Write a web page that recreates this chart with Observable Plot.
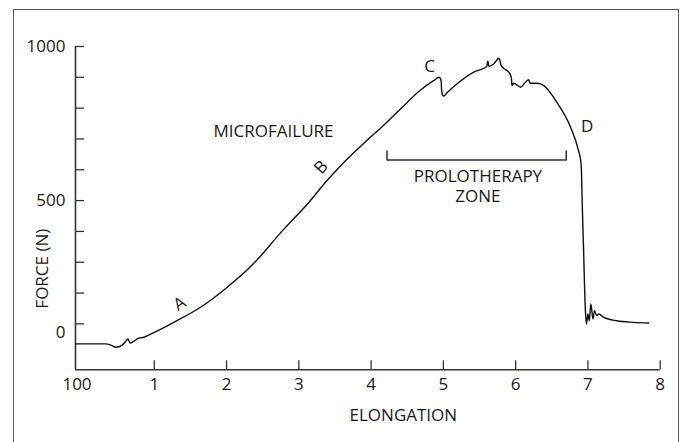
<!DOCTYPE html>
<html><head><meta charset="utf-8">
<script src="https://cdn.jsdelivr.net/npm/d3@7"></script>
<script src="https://cdn.jsdelivr.net/npm/@observablehq/plot@0.6"></script>
<style>
body{margin:0;background:#fff;}
#wrap{position:relative;width:687px;height:442px;overflow:hidden;background:#fff;}
#wrap svg{position:absolute;left:0;top:0;}
#border{position:absolute;left:13px;top:9px;width:666px;height:470px;border:1.5px solid #5a5a5a;box-sizing:border-box;pointer-events:none;}
</style></head><body><div id="wrap"></div>
<script>
// Curve: elongation vs force (N)
const elongation = [-0.09,0.33,0.40,0.47,0.55,0.60,0.635,0.665,0.72,0.79,0.83,0.95,1.10,1.27,1.64,2.01,2.33,2.52,2.70,2.84,3.12,3.39,3.67,3.95,4.13,4.41,4.68,4.87,4.94,4.97,4.975,4.99,5.005,5.05,5.19,5.42,5.60,5.615,5.63,5.70,5.77,5.80,5.86,5.905,5.94,5.95,5.97,6.02,6.07,6.12,6.18,6.20,6.30,6.39,6.57,6.76,6.87,6.90,6.91,6.92,6.94,6.965,6.98,7.00,7.02,7.04,7.07,7.09,7.12,7.15,7.22,7.40,7.63,7.84];
const force      = [35,35,31,24,30,42,51,38,44,54,55,67,84,105,154,219,285,333,383,419,489,565,635,697,735,798,858,890,900,888,860,842,839,850,879,917,935,952,935,944,962,938,925,917,900,873,881,875,868,880,892,881,881,873,819,738,662,630,600,500,338,143,100,132,110,165,116,143,127,132,121,110,105,103];

const xDomain = [-0.09, 8];
const yDomain = [-49, 1000];
const xTicks = [1,2,3,4,5,6,7,8];
const xTickLabels = ["1","2","3","4","5","6","7","8"];
const xOriginLabel = "100";
const yTicks = [100,200,300,400,500,600,700,800,900,1000];
const yTickLabels = [1000, 500];
const yZeroLabel = "0";
const xTitle = "ELONGATION";
const yTitle = "FORCE (N)";

// Annotations
const labels = [
  {text: "MICROFAILURE", x: 2.65, y: 724},
  {text: "C", x: 4.81, y: 936},
  {text: "D", x: 6.99, y: 741}
];
const zoneLabel = {text: "PROLOTHERAPY\nZONE", x: 5.478, y: 549};
const labelA = {text: "A", x: 1.35, y: 165};
const labelB = {text: "B", x: 3.31, y: 608};
const yTitlePos = {x: -0.549, y: 279};
const bracket = [{x: 4.22, y: 661}, {x: 4.22, y: 632}, {x: 6.70, y: 632}, {x: 6.70, y: 661}];

const data = elongation.map((x, i) => ({x, y: force[i]}));

const W = 687, H = 442, mL = 75, mR = 27.3, mT = 46, mB = 72.7;
const plotW = W - mL - mR, plotH = H - mT - mB;
const axisColor = "#333";
const ink = "#1a1a1a";

const chart = Plot.plot({
  width: W, height: H,
  marginLeft: mL, marginRight: mR, marginTop: mT, marginBottom: mB,
  x: {domain: xDomain, axis: null},
  y: {domain: yDomain, axis: null},
  style: {fontFamily: "'Open Sans', sans-serif", fontSize: "17px", background: "transparent", color: ink, overflow: "visible"},
  marks: [
    Plot.ruleX([xDomain[0]], {y1: yDomain[0], y2: yDomain[1], stroke: axisColor, strokeWidth: 1.6}),
    Plot.ruleY([yDomain[0]], {x1: xDomain[0], x2: xDomain[1], stroke: axisColor, strokeWidth: 1.6}),
    Plot.tickY(yTicks, {y: d => d, insetRight: plotW - 9, stroke: axisColor, strokeWidth: 1.3}),
    Plot.tickX(xTicks, {x: d => d, insetTop: plotH - 9, stroke: axisColor, strokeWidth: 1.3}),
    Plot.text(yTickLabels, {y: d => d, text: d => String(d), frameAnchor: "left", textAnchor: "end", dx: -10, fill: ink}),
    Plot.text([0], {y: d => d, text: () => yZeroLabel, frameAnchor: "left", textAnchor: "end", dx: -10, dy: -22, fill: ink}),
    Plot.text(xTicks, {x: d => d, text: (d, i) => xTickLabels[i], frameAnchor: "bottom", lineAnchor: "middle", dy: 15, fill: ink}),
    Plot.text([xDomain[0]], {x: d => d, text: () => xOriginLabel, frameAnchor: "bottom", lineAnchor: "middle", dy: 15, dx: 1.5, fill: ink}),
    Plot.text([xTitle], {text: d => d, frameAnchor: "bottom", lineAnchor: "middle", dx: 35.5, dy: 46, fill: ink}),
    Plot.text([yTitlePos], {x: "x", y: "y", text: () => yTitle, lineAnchor: "middle", rotate: -90, fill: ink}),
    Plot.line(bracket, {x: "x", y: "y", stroke: axisColor, strokeWidth: 1.5}),
    Plot.line(data, {x: "x", y: "y", stroke: "#111", strokeWidth: 1.4, strokeLinejoin: "round", curve: "monotone-x"}),
    Plot.text(labels, {x: "x", y: "y", text: "text", fill: ink}),
    Plot.text([zoneLabel], {x: "x", y: "y", text: "text", lineHeight: 1.18, fill: ink}),
    Plot.text([labelA], {x: "x", y: "y", text: "text", rotate: -32, fill: ink}),
    Plot.text([labelB], {x: "x", y: "y", text: "text", rotate: -48, fill: ink})
  ]
});
const wrap = document.getElementById("wrap");
wrap.appendChild(chart);
const border = document.createElement("div");
border.id = "border";
wrap.appendChild(border);
</script>
</body></html>
